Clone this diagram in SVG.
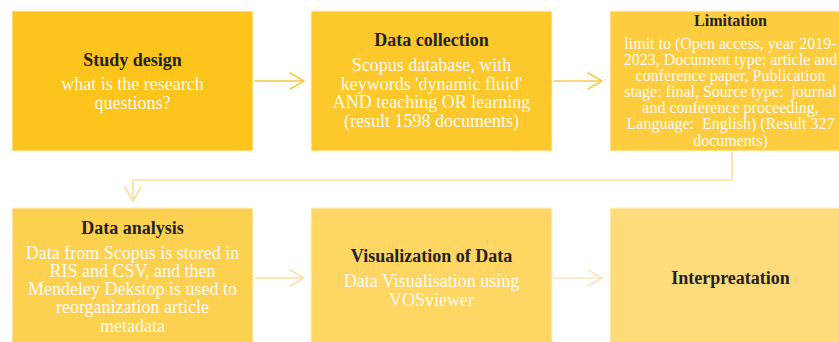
<svg xmlns="http://www.w3.org/2000/svg" width="839" height="342" viewBox="0 0 839 342">
<defs>
<style>
.box{stroke:#fff3cf;stroke-width:1}
.t{font-family:"Liberation Serif","Times New Roman",serif;font-weight:bold;font-size:18px;fill:#222;text-anchor:middle}
.b{font-family:"Liberation Serif","Times New Roman",serif;font-size:18px;fill:#fffaf0;text-anchor:middle}
.s{font-size:16px}
.p{white-space:pre}
.c{fill:none;stroke-width:1.6;stroke-linecap:round;stroke-linejoin:round}
</style>
</defs>
<rect width="839" height="342" fill="#ffffff"/>
<g id="connectors">
<path class="c" stroke="#f9c845" d="M255 81H304M290 73L304 81L290 89"/>
<path class="c" stroke="#fac94f" d="M554 81H602M588 73L602 81L588 89"/>
<path class="c" stroke="#fddc9a" d="M732 152V180H133V201M125 187L133 201L141 187"/>
<path class="c" stroke="#fde0a8" d="M255 278H304M290 270L304 278L290 286"/>
<path class="c" stroke="#fee6bf" d="M554 278H602M588 270L602 278L588 286"/>
</g>
<g id="study-design">
<rect class="box" x="12" y="11" width="241" height="140" fill="#fdc41c"/>
<text class="t" x="132.5" y="66">Study design</text>
<text class="b" x="132.5" y="90">what is the research</text>
<text class="b" x="132.5" y="109">questions?</text>
</g>
<g id="data-collection">
<rect class="box" x="311" y="11" width="241" height="140" fill="#fdc82c"/>
<text class="t" x="431.5" y="46">Data collection</text>
<text class="b" x="431.5" y="71">Scopus database, with</text>
<text class="b" x="431.5" y="89.5">keywords 'dynamic fluid'</text>
<text class="b" x="431.5" y="108">AND teaching OR learning</text>
<text class="b" x="431.5" y="126.5">(result 1598 documents)</text>
</g>
<g id="limitation">
<rect class="box" x="610" y="11" width="241" height="140" fill="#fdcc3f"/>
<text class="t s" x="730.5" y="26">Limitation</text>
<text class="b s" x="730.5" y="48.5">limit to (Open access, year 2019-</text>
<text class="b s" x="730.5" y="64.8">2023, Document type: article and</text>
<text class="b s" x="730.5" y="81">conference paper, Publication</text>
<text class="b s p" x="730.5" y="97" xml:space="preserve">stage: final, Source type:  journal</text>
<text class="b s" x="730.5" y="113.2">and conference proceeding,</text>
<text class="b s p" x="730.5" y="129.4" xml:space="preserve">Language:  English) (Result 327</text>
<text class="b s" x="730.5" y="145.5">documents)</text>
</g>
<g id="data-analysis">
<rect class="box" x="12" y="208" width="241" height="140" fill="#fdd150"/>
<text class="t" x="132.5" y="233.5">Data analysis</text>
<text class="b" x="132.5" y="258.5">Data from Scopus is stored in</text>
<text class="b" x="132.5" y="276.8">RIS and CSV, and then</text>
<text class="b" x="132.5" y="295.1">Mendeley Dekstop is used to</text>
<text class="b" x="132.5" y="313.4">reorganization article</text>
<text class="b" x="132.5" y="331.7">metadata</text>
</g>
<g id="visualization">
<rect class="box" x="311" y="208" width="241" height="140" fill="#fdd664"/>
<text class="t" x="431.5" y="262">Visualization of Data</text>
<text class="b" x="431.5" y="287">Data Visualisation using</text>
<text class="b" x="431.5" y="305.5">VOSviewer</text>
</g>
<g id="interpretation">
<rect class="box" x="610" y="208" width="241" height="140" fill="#fedb7b"/>
<text class="t" x="730.5" y="283.5">Interpreatation</text>
</g>
</svg>
